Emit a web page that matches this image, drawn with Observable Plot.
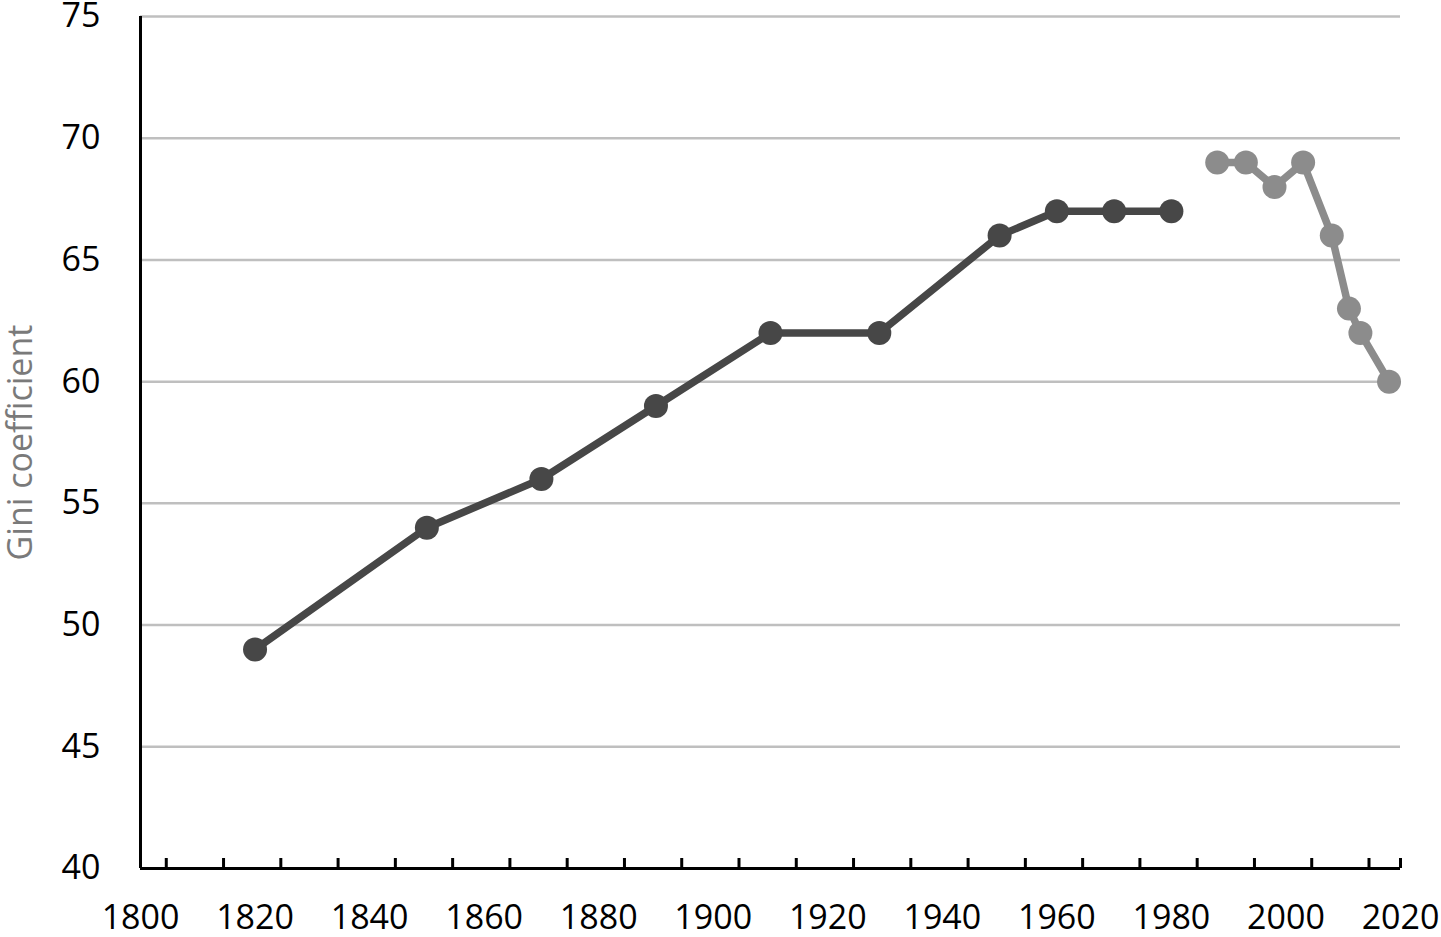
<!DOCTYPE html>
<html>
<head>
<meta charset="utf-8">
<script src="https://cdn.jsdelivr.net/npm/d3@7"></script>
<script src="https://cdn.jsdelivr.net/npm/@observablehq/plot@0.6"></script>
<style>
  html, body { margin: 0; padding: 0; background: #fff; }
  #chart svg { display: block; overflow: visible; }
</style>
</head>
<body>
<div id="chart"></div>
<script>
// Historical series (dark)
const histYears = [1820, 1850, 1870, 1890, 1910, 1929, 1950, 1960, 1970, 1980];
const histGini  = [49, 54, 56, 59, 62, 62, 66, 67, 67, 67];
// Recent series (light gray)
const recentYears = [1988, 1993, 1998, 2003, 2008, 2011, 2013, 2018];
const recentGini  = [69, 69, 68, 69, 66, 63, 62, 60];

const xLabelTicks = [1800, 1820, 1840, 1860, 1880, 1900, 1920, 1940, 1960, 1980, 2000, 2020];
const xTickMarks = [1804.5, 1814.5, 1824.5, 1834.5, 1844.5, 1854.5, 1864.5, 1874.5, 1884.5, 1894.5,
  1904.5, 1914.5, 1924.5, 1934.5, 1944.5, 1954.5, 1964.5, 1974.5, 1984.5, 1994.5, 2004.5, 2014.5, 2020];
const yTicks = [40, 45, 50, 55, 60, 65, 70, 75];
const gridValues = [45, 50, 55, 60, 65, 70, 75];

const hist = histYears.map((y, i) => ({year: y, gini: histGini[i]}));
const recent = recentYears.map((y, i) => ({year: y, gini: recentGini[i]}));

const dark = "#474747";
const light = "#8c8c8c";
const font = "'Open Sans', 'Noto Sans', sans-serif";

const chart = Plot.plot({
  width: 1441,
  height: 937,
  marginLeft: 140,
  marginRight: 41,
  marginTop: 16,
  marginBottom: 69,
  style: {fontFamily: font, fontSize: "34px", color: "#000", background: "#fff"},
  x: {domain: [1800, 2020]},
  y: {domain: [40, 75]},
  marks: [
    Plot.ruleY(gridValues, {stroke: "#bfbfbf", strokeWidth: 2.5}),
    Plot.axisY(yTicks, {tickSize: 0, tickPadding: 40, fontSize: 34, label: null, fill: "#000"}),
    Plot.axisX(xLabelTicks, {tickSize: 0, tickPadding: 36, fontSize: 34, label: null, tickFormat: d => String(d), fill: "#000"}),
    Plot.axisX(xTickMarks, {tickSize: -10, tickFormat: () => "", label: null, stroke: "#000", strokeWidth: 3}),
    Plot.ruleX([1800], {stroke: "#000", strokeWidth: 3}),
    Plot.ruleY([40], {stroke: "#000", strokeWidth: 3}),
    Plot.line(hist, {x: "year", y: "gini", stroke: dark, strokeWidth: 7.5}),
    Plot.dot(hist, {x: "year", y: "gini", r: 12, fill: dark}),
    Plot.line(recent, {x: "year", y: "gini", stroke: light, strokeWidth: 7.5}),
    Plot.dot(recent, {x: "year", y: "gini", r: 12, fill: light}),
    Plot.text(["Gini coefficient"], {frameAnchor: "left", textAnchor: "middle", lineAnchor: "middle", rotate: -90, dx: -119, fill: "#7a7a7a", fontSize: 34, text: d => d})
  ]
});
document.getElementById("chart").appendChild(chart);
</script>
</body>
</html>
